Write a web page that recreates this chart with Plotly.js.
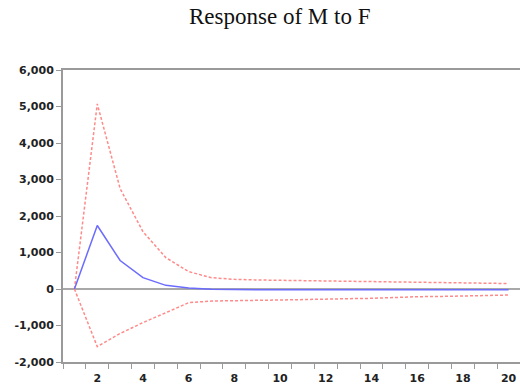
<!DOCTYPE html>
<html>
<head>
<meta charset="utf-8">
<script src="https://cdn.plot.ly/plotly-3.0.1.min.js"></script>
<style>html,body{margin:0;padding:0;background:#fff;}#chart{width:520px;height:388px;}</style>
</head>
<body>
<div id="chart"></div>
<script>
// Periods (horizon)
const periods = [1,2,3,4,5,6,7,8,9,10,11,12,13,14,15,16,17,18,19,20];
// Impulse response of M to F (point estimate)
const response = [0,1740,780,310,100,30,-5,-20,-20,-20,-20,-20,-20,-20,-20,-20,-20,-20,-20,-20];
// Upper and lower confidence bands (±2 S.E.)
const upperBand = [0,5070,2750,1570,860,475,310,265,247,238,235,222,220,202,195,177,175,157,150,150];
const lowerBand = [0,-1580,-1220,-920,-650,-375,-330,-311,-310,-302,-283,-275,-265,-256,-228,-211,-205,-192,-180,-165];
// Axis labels
const xTickLabels = ['2','4','6','8','10','12','14','16','18','20'];
const xTickVals = [2,4,6,8,10,12,14,16,18,20];
const yTickVals = [-2000,-1000,0,1000,2000,3000,4000,5000,6000];
const yTickLabels = ['-2,000','-1,000','0','1,000','2,000','3,000','4,000','5,000','6,000'];
const chartTitle = 'Response of M to F';

const traces = [
  {x: periods, y: upperBand, mode: 'lines', line: {color: '#ff8a8a', width: 1.5, dash: '3px,2px'}, hoverinfo: 'skip'},
  {x: periods, y: lowerBand, mode: 'lines', line: {color: '#ff8a8a', width: 1.5, dash: '3px,2px'}, hoverinfo: 'skip'},
  {x: periods, y: response, mode: 'lines', line: {color: '#6b6bff', width: 1.5}, hoverinfo: 'skip'}
];

const tickFont = {family: '"DejaVu Sans", sans-serif', size: 11, color: '#222', weight: 'bold'};

const layout = {
  width: 520, height: 388,
  margin: {l: 63, r: 0, t: 70, b: 26},
  paper_bgcolor: '#fff', plot_bgcolor: '#fff',
  showlegend: false,
  title: {
    text: chartTitle,
    font: {family: '"Liberation Serif", "Times New Roman", serif', size: 23, color: '#111'},
    xref: 'container', x: 0.538, xanchor: 'center',
    yref: 'container', y: 0.958, yanchor: 'middle'
  },
  xaxis: {
    range: [0.5, 20.5],
    tickvals: xTickVals, ticktext: xTickLabels,
    ticks: '', showgrid: false, zeroline: false,
    showline: true, linecolor: '#9a9a9a', linewidth: 2, mirror: true,
    minor: {tick0: 0.5, dtick: 1, ticks: 'outside', ticklen: 5, tickcolor: '#9a9a9a', tickwidth: 1, showgrid: false},
    tickfont: tickFont,
    ticklabelstandoff: 5
  },
  yaxis: {
    range: [-2000, 6000],
    tickvals: yTickVals, ticktext: yTickLabels,
    ticks: 'outside', ticklen: 5, tickcolor: '#9a9a9a', tickwidth: 1,
    showgrid: false,
    zeroline: true, zerolinecolor: '#a8a8a8', zerolinewidth: 2,
    showline: true, linecolor: '#9a9a9a', linewidth: 2,
    tickfont: tickFont
  }
};

Plotly.newPlot('chart', traces, layout, {staticPlot: true, displayModeBar: false});
</script>
</body>
</html>
